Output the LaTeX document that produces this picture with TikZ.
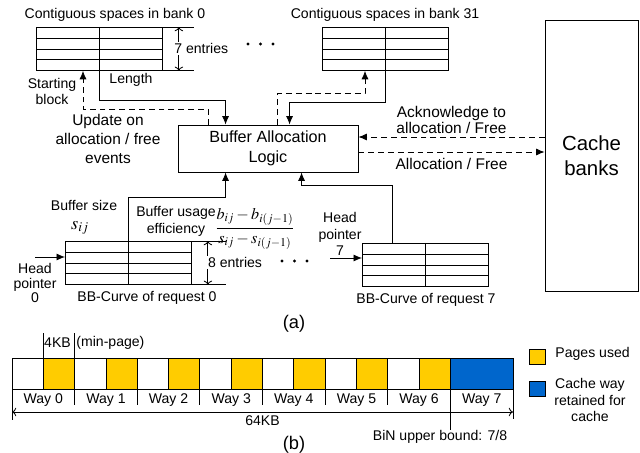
\documentclass[tikz,border=0pt]{standalone}
\usepackage{amsmath}
\usepackage{mathptmx}
\usepackage[no-math]{fontspec}
\setmainfont{Liberation Sans}
\usepackage{tikz}
\usetikzlibrary{arrows.meta, calc}

\definecolor{pageyellow}{RGB}{255,204,0}
\definecolor{wayblue}{RGB}{0,102,204}

\tikzset{
  tbl/.style={draw, minimum width=3.15cm, minimum height=1.075cm, inner sep=0pt, anchor=north west},
  dflow/.style={->, dash pattern=on 4.2pt off 2.8pt},
  dim/.style={{To[length=3pt,width=6pt]}-{To[length=3pt,width=6pt]}},
  lbl/.style={font=\fontsize{10}{12}\selectfont, inner sep=0pt, align=center},
}

\begin{document}
\begin{tikzpicture}[>={Latex[length=6pt,width=5pt]}, x=0.025cm, y=-0.025cm, line width=0.6pt]
\useasboundingbox (0,0) rectangle (640,453);

\node[tbl] (bank0) at (36,27) {};
\node[tbl] (bank31) at (322,27) {};
\node[tbl] (req0) at (65,241) {};
\node[tbl] (req7) at (362,243) {};
\foreach \tb in {bank0, bank31, req0, req7} {
  \foreach \r in {1,2,3}
    \draw ($(\tb.north west)!\r/4!(\tb.south west)$) -- ($(\tb.north east)!\r/4!(\tb.south east)$);
  \draw (\tb.north) -- (\tb.south);
}

\node[draw, minimum width=4.5cm, minimum height=1.175cm, align=center, font=\fontsize{11.5}{14}\selectfont] (logic) at (268,148.5) {Buffer Allocation\\Logic};
\node[draw, minimum width=2.325cm, minimum height=6.775cm, align=center, font=\fontsize{14.5}{17.7}\selectfont] (cache) at (591.5,155.5) {Cache\\banks};

\draw[->] (bank0.south) -- ++(0,30) -| ($(logic.north west)+(48,0)$);
\draw[dflow] ($(logic.north west)+(31,0)$) -- ++(0,-15) -| ($(bank0.south west)+(47,0)$);
\draw[dflow] ($(logic.north west)+(100,0)$) -- ++(0,-31) -| ($(bank31.south west)+(43,0)$);
\draw[->] (bank31.south) -- ++(0,32) -| ($(logic.north west)+(112,0)$);

\coordinate (ack) at (0,137);
\coordinate (alloc) at (0,152);
\draw[dflow] (cache.west |- ack) -- (logic.east |- ack)
  node[midway, above=2pt, lbl, font=\fontsize{11}{11.8}\selectfont] {Acknowledge to\\allocation / Free};
\draw[dflow] (logic.east |- alloc) -- (cache.west |- alloc)
  node[midway, below=4pt, lbl, font=\fontsize{11}{13}\selectfont] {Allocation / Free};

\draw[->] (req0.north) -- ++(0,-44) -| ($(logic.south west)+(48,0)$);
\draw[->] ($(req7.north west)+(30,0)$) -- ++(0,-58) -| ($(logic.south west)+(124,0)$);

\coordinate (hp0) at (35,257);
\draw[->] (hp0) -- (hp0 -| req0.west);
\coordinate (hp7) at (330,258);
\draw[->] (hp7) -- (hp7 -| req7.west);

\draw (bank0.north east) -- ++(31,0);
\draw (bank0.south east) -- ++(31,0);
\draw[dim] ($(bank0.north east)+(16,0)$) -- ($(bank0.south east)+(16,0)$)
  node[midway, anchor=west, xshift=-0.16cm, fill=white, lbl, inner sep=1pt] {7 entries};
\draw (req0.north east) -- ++(34,0);
\draw (req0.south east) -- ++(34,0);
\draw[dim] ($(req0.north east)+(16,0)$) -- ($(req0.south east)+(16,0)$)
  node[midway, anchor=west, xshift=-0.04cm, fill=white, lbl, inner sep=1pt] {8 entries};

\foreach \d in {0,1,2} {
  \fill (248+12.5*\d,44) circle (1.2pt);
  \fill (282+12.5*\d,261) circle (1.2pt);
}

\node[lbl] (bank0lbl) at (115,15) {Contiguous spaces in bank 0};
\node[lbl] (bank31lbl) at (385,15) {Contiguous spaces in bank 31};
\node[lbl] (start) at (52,91.5) {Starting\\block};
\node[lbl] (len) at (131,80) {Length};
\node[lbl, font=\fontsize{11}{13.7}\selectfont] (upd) at (108,139) {Update on\\allocation / free\\events};
\node[lbl] (bsize) at (84,205) {Buffer size};
\node[lbl, font=\fontsize{13}{15}\selectfont] (sij) at (80,228) {$s_{ij}$};
\node[lbl] (eff) at (176,221) {Buffer usage\\efficiency};
\node[lbl, font=\fontsize{11.5}{14}\selectfont] (ratio) at (255,229) {$\dfrac{b_{ij}-b_{i(j-1)}}{s_{ij}-s_{i(j-1)}}$};
\node[lbl, font=\fontsize{10}{10.6}\selectfont] (hd0) at (35,283) {Head\\pointer\\0};
\node[lbl, font=\fontsize{10}{11.7}\selectfont] (hd7) at (340,234) {Head\\pointer\\7};
\node[lbl] (bb0) at (147,298) {BB-Curve of request 0};
\node[lbl] (bb7) at (426,300) {BB-Curve of request 7};
\node[lbl, font=\fontsize{13}{15}\selectfont] (capa) at (294,324) {(a)};

\def\cw{31.3125}
\foreach \i in {0,...,6} {
  \draw (12+2*\i*\cw,358) rectangle ++(\cw,31);
  \draw[fill=pageyellow] (12+2*\i*\cw+\cw,358) rectangle ++(\cw,31);
}
\draw[fill=wayblue] (12+14*\cw,358) rectangle (513,389);
\foreach \i in {0,...,7}
  \node[lbl] (way\i) at (12+2*\i*\cw+\cw,400) {Way \i};
\foreach \i in {1,...,6}
  \draw (12+2*\i*\cw,389) -- ++(0,16);
\draw (12,389) -- (12,420);
\draw (513,389) -- (513,419);
\draw (12+14*\cw,389) -- ++(0,41);
\draw (12+\cw,358) -- ++(0,-25);
\draw (12+2*\cw,358) -- ++(0,-25);
\coordinate (kbl) at (12,412);
\coordinate (kbr) at (513,412);
\draw[dim] (kbl) -- (kbr) node[midway, below=2pt, lbl] {64KB};
\node[lbl] (kb4) at (57.5,343) {4KB};
\node[lbl, anchor=west] (minpg) at (76,343) {(min-page)};
\node[lbl] (bin) at (440,437) {BiN upper bound: 7/8};

\draw[fill=pageyellow] (529,349) rectangle (545,364);
\node[lbl, anchor=west] (used) at (555,354) {Pages used};
\draw[fill=wayblue] (529,381) rectangle (545,396);
\node[lbl] (kept) at (590,400) {Cache way\\retained for\\cache};
\node[lbl, font=\fontsize{13}{15}\selectfont] (capb) at (294,445) {(b)};
\end{tikzpicture}
\end{document}
